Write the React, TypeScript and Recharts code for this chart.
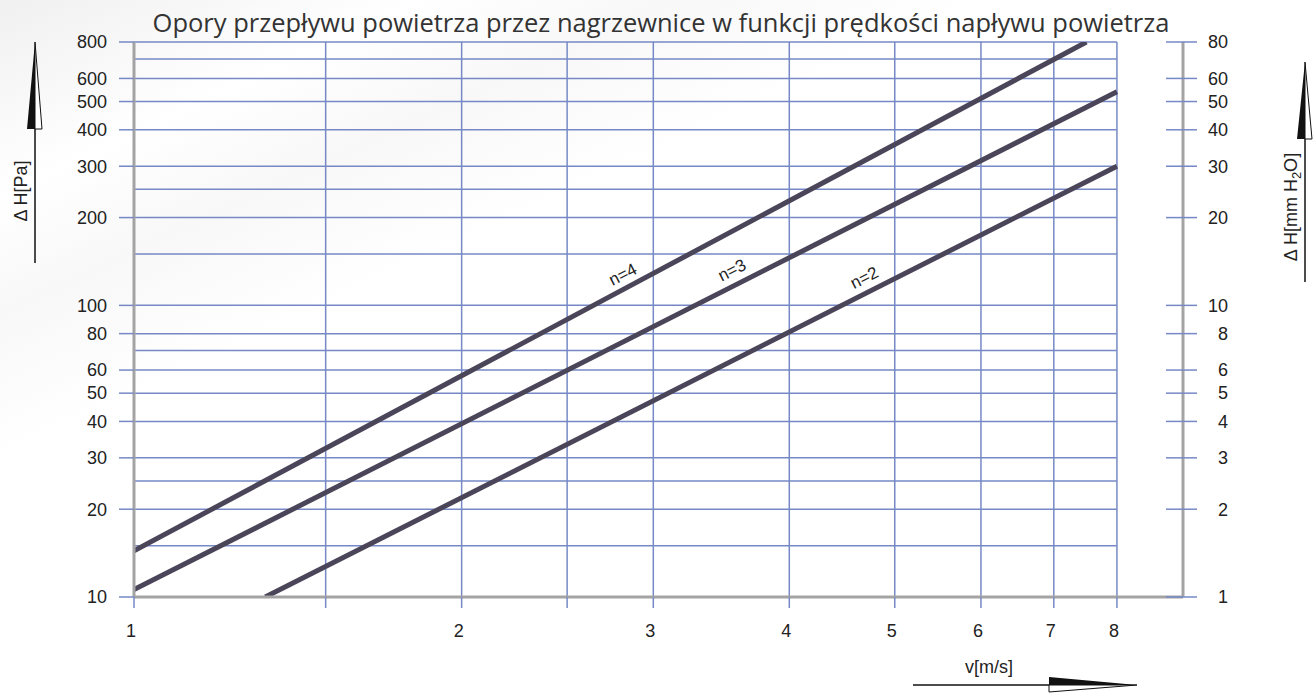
import {
  ComposedChart,
  Line,
  XAxis,
  YAxis,
  CartesianGrid,
  ReferenceLine,
  ReferenceDot,
} from "recharts";

// v [m/s] ticks and labelled values
const vTicks = [1, 1.5, 2, 2.5, 3, 4, 5, 6, 7, 8];
const vLabels = [1, 2, 3, 4, 5, 6, 7, 8];

// ΔH [Pa] ticks and grid rows
const paTicks = [10, 20, 30, 40, 50, 60, 80, 100, 200, 300, 400, 500, 600, 800];
const paGrid = [15, 20, 25, 30, 40, 50, 60, 70, 80, 100, 150, 200, 250, 300, 400, 500, 600, 700, 800];

// ΔH [mm H2O] ticks
const mmTicks = [1, 2, 3, 4, 5, 6, 8, 10, 20, 30, 40, 50, 60, 80];

// curves
const n4V = [1, 7.5];
const n4H = [14.4, 800];
const n3V = [1, 8];
const n3H = [10.6, 540];
const n2V = [1.32, 8];
const n2H = [10, 300];

const curveNames = ["n=4", "n=3", "n=2"];
const labelV = [2.85, 3.59, 4.75];
const labelH = [116, 120, 113];

const toPoints = (xs: number[], ys: number[]) => xs.map((x, i) => ({ v: x, h: ys[i] }));

const GRID = "#7689c6";
const AXIS = "#a3a3a3";
const CURVE = "#4a4558";
const TXT = "#222";
const FONT = "'Liberation Sans', Arial, sans-serif";
const FS = 18;

function XTick(props: any) {
  const { x, y, payload } = props;
  if (!vLabels.includes(payload.value)) return null;
  return (
    <text x={x - 3} y={y} dy="0.71em" textAnchor="middle" fontSize={FS} fill={TXT} fontFamily={FONT}>
      {payload.value}
    </text>
  );
}

function LeftTick(props: any) {
  const { x, y, payload } = props;
  return (
    <text x={x} y={y} dy="0.35em" textAnchor="end" fontSize={FS} fill={TXT} fontFamily={FONT}>
      {payload.value}
    </text>
  );
}

function RightTick(props: any) {
  const { x, y, payload } = props;
  return (
    <g>
      <line x1={x - 17} x2={x + 14} y1={y} y2={y} stroke={GRID} strokeWidth={1.5} />
      <text x={x + 45} y={y} dy="0.35em" textAnchor="end" fontSize={FS} fill={TXT} fontFamily={FONT}>
        {payload.value}
      </text>
    </g>
  );
}

const curveLabel = (text: string) => (p: any) => (
  <text
    x={p.cx}
    y={p.cy}
    dy={-8}
    transform={`rotate(-27 ${p.cx} ${p.cy})`}
    textAnchor="middle"
    fontSize={17}
    fill={TXT}
    fontFamily={FONT}
  >
    {text}
  </text>
);

function Decorations() {
  return (
    <svg
      width={1313}
      height={693}
      style={{ position: "absolute", left: 0, top: 0, pointerEvents: "none" }}
    >
      <text x={661} y={32} textAnchor="middle" fontSize={25.5} fill="#333" fontFamily="'Open Sans', sans-serif">
        Opory przepływu powietrza przez nagrzewnice w funkcji prędkości napływu powietrza
      </text>

      {/* left axis title + arrow */}
      <line x1={35} x2={35} y1={129} y2={263} stroke="#111" strokeWidth={1.5} />
      <polygon points="35,42 27,129 35,129" fill="#111" />
      <polygon points="35,42 35,129 42,129" fill="#fff" stroke="#111" strokeWidth={1} />
      <text x={27} y={191} transform="rotate(-90 27 191)" textAnchor="middle" fontSize={18} fill={TXT} fontFamily={FONT}>
        Δ H[Pa]
      </text>

      {/* right axis title + arrow */}
      <line x1={1305} x2={1305} y1={139} y2={282} stroke="#111" strokeWidth={1.5} />
      <polygon points="1305,62 1297,139 1305,139" fill="#111" />
      <polygon points="1305,62 1305,139 1312,139" fill="#fff" stroke="#111" strokeWidth={1} />
      <text x={1297} y={207} transform="rotate(-90 1297 207)" textAnchor="middle" fontSize={18} fill={TXT} fontFamily={FONT}>
        Δ H[mm H
        <tspan dy={4} fontSize={13}>2</tspan>
        <tspan dy={-4}>O]</tspan>
      </text>

      {/* bottom axis title + arrow */}
      <text x={989} y={673} textAnchor="middle" fontSize={18} fill={TXT} fontFamily={FONT}>
        v[m/s]
      </text>
      <line x1={913} x2={1049} y1={685} y2={685} stroke="#111" strokeWidth={1.5} />
      <polygon points="1049,677 1137,685 1049,685" fill="#111" />
      <polygon points="1049,685 1137,685 1049,692" fill="#fff" stroke="#111" strokeWidth={1} />
    </svg>
  );
}

export default function App() {
  return (
    <div
      style={{
        position: "absolute",
        left: 0,
        top: 0,
        width: 1313,
        height: 693,
        background: "linear-gradient(155deg, #f0f0f0 0%, #ffffff 15%, #f8f8f8 24%, #ffffff 35%)",
      }}
    >
      <ComposedChart width={1313} height={693} margin={{ top: 42, right: 0, bottom: 0, left: 0 }}>
        <CartesianGrid horizontal={false} stroke={GRID} strokeWidth={1.5} />
        <XAxis
          dataKey="v"
          type="number"
          scale="log"
          domain={[1, 9.2]}
          allowDataOverflow
          ticks={vTicks}
          interval={0}
          height={96}
          tickSize={11}
          tickMargin={16}
          tickLine={{ stroke: GRID, strokeWidth: 1.5 }}
          axisLine={{ stroke: AXIS, strokeWidth: 3 }}
          tick={<XTick />}
        />
        <YAxis
          yAxisId="left"
          type="number"
          scale="log"
          domain={[10, 800]}
          allowDataOverflow
          ticks={paTicks}
          interval={0}
          width={134}
          tickSize={15}
          tickMargin={12}
          tickLine={{ stroke: GRID, strokeWidth: 1.5 }}
          axisLine={{ stroke: AXIS, strokeWidth: 3 }}
          tick={<LeftTick />}
        />
        <YAxis
          yAxisId="right"
          orientation="right"
          type="number"
          scale="log"
          domain={[1, 80]}
          allowDataOverflow
          ticks={mmTicks}
          interval={0}
          width={130}
          tickSize={0}
          tickMargin={0}
          tickLine={false}
          axisLine={{ stroke: AXIS, strokeWidth: 3 }}
          tick={<RightTick />}
        />
        {paGrid.map((h) => (
          <ReferenceLine
            key={h}
            yAxisId="left"
            segment={[
              { x: 1, y: h },
              { x: 8, y: h },
            ]}
            stroke={GRID}
            strokeWidth={1.5}
          />
        ))}
        <Line
          yAxisId="left"
          data={toPoints(n4V, n4H)}
          dataKey="h"
          stroke={CURVE}
          strokeWidth={5}
          dot={false}
          isAnimationActive={false}
        />
        <Line
          yAxisId="left"
          data={toPoints(n3V, n3H)}
          dataKey="h"
          stroke={CURVE}
          strokeWidth={5}
          dot={false}
          isAnimationActive={false}
        />
        <Line
          yAxisId="left"
          data={toPoints(n2V, n2H)}
          dataKey="h"
          stroke={CURVE}
          strokeWidth={5}
          dot={false}
          isAnimationActive={false}
        />
        {curveNames.map((name, i) => (
          <ReferenceDot
            key={name}
            yAxisId="left"
            x={labelV[i]}
            y={labelH[i]}
            shape={curveLabel(name)}
          />
        ))}
      </ComposedChart>
      <Decorations />
    </div>
  );
}
